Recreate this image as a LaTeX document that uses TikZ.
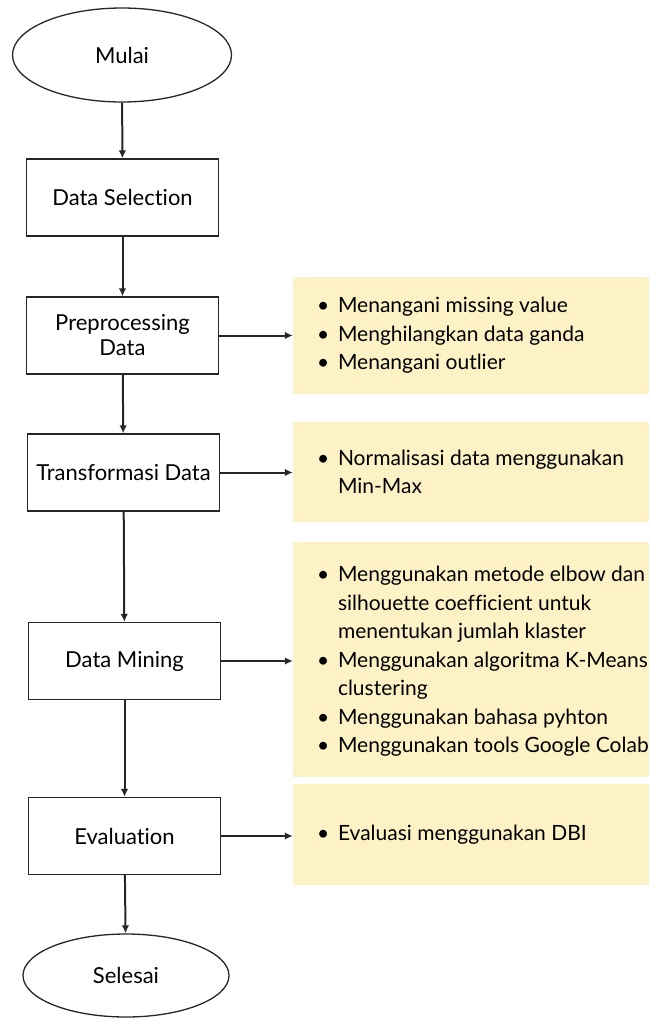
\documentclass[tikz,border=0pt]{standalone}
\usepackage{fontspec}
\setmainfont{Lato}[Ligatures={NoCommon,NoRequired}]
\usetikzlibrary{shapes.geometric,arrows.meta}

\definecolor{kuning}{RGB}{253,242,198}
\definecolor{garis}{RGB}{38,38,38}

\newcommand{\butir}{\makebox[21pt][l]{\textbullet}}
\newcommand{\lanjut}{\hspace*{21pt}}

\tikzset{
    proses/.style={draw=garis, line width=1.3pt, minimum width=192pt, minimum height=77pt,
        align=center, font=\fontsize{22}{25}\selectfont, inner sep=0pt},
    terminal/.style={ellipse, draw=garis, line width=1.3pt, inner sep=0pt,
        font=\fontsize{22}{25}\selectfont},
    ket/.style={fill=kuning, minimum width=356pt, inner sep=0pt},
    isi/.style={anchor=west, align=left, font=\fontsize{21}{28.5}\selectfont, inner sep=0pt},
    panah/.style={draw=garis, line width=2pt, -{Latex[length=8pt,width=7.5pt]}}
}

\begin{document}
\begin{tikzpicture}[x=1pt,y=-1pt]
    \useasboundingbox (0,0) rectangle (649,1018);

    % Alur utama
    \node[terminal, minimum width=219pt, minimum height=94pt] (mulai) at (122,55) {Mulai};
    \node[proses] (seleksi) at (122.5,197.5) {Data Selection};
    \node[proses] (prepro) at (122.5,335.5) {Preprocessing\\Data};
    \node[proses] (transf) at (123.5,472.5) {Transformasi Data};
    \node[proses] (mining) at (124.5,661) {Data Mining};
    \node[proses] (evalu) at (124.5,836) {Evaluation};
    \node[terminal, minimum width=206pt, minimum height=83pt] (selesai) at (126,975.5) {Selesai};

    % Kotak keterangan
    \node[ket, minimum height=117pt] (ket1) at (471,335.5) {};
    \node[ket, minimum height=100pt] (ket2) at (471,472) {};
    \node[ket, minimum height=235pt] (ket3) at (471,659.5) {};
    \node[ket, minimum height=101pt] (ket4) at (471,834.5) {};

    \node[isi] (isi1) at ([xshift=24pt]ket1.west) {\butir Menangani missing value\\
        \butir Menghilangkan data ganda\\
        \butir Menangani outlier};
    \node[isi] (isi2) at ([xshift=24pt]ket2.west) {\butir Normalisasi data menggunakan\\
        \lanjut Min-Max};
    \node[isi] (isi3) at ([xshift=24pt,yshift=-2pt]ket3.west) {\butir Menggunakan metode elbow dan\\
        \lanjut silhouette coefficient untuk\\
        \lanjut menentukan jumlah klaster\\
        \butir Menggunakan algoritma K-Means\\
        \lanjut clustering\\
        \butir Menggunakan bahasa pyhton\\
        \butir Menggunakan tools Google Colab};
    \node[isi] (isi4) at ([xshift=24pt]ket4.west) {\butir Evaluasi menggunakan DBI};

    % Panah
    \draw[panah] (mulai) -- (seleksi);
    \draw[panah] (seleksi) -- (prepro);
    \draw[panah] (prepro) -- (transf);
    \draw[panah] (transf) -- (mining);
    \draw[panah] (mining) -- (evalu);
    \draw[panah] (evalu) -- (selesai);

    \draw[panah] (prepro.east) -- (prepro.east -| ket1.west);
    \draw[panah] (transf.east) -- (transf.east -| ket2.west);
    \draw[panah] (mining.east) -- (mining.east -| ket3.west);
    \draw[panah] (evalu.east) -- (evalu.east -| ket4.west);
\end{tikzpicture}
\end{document}
